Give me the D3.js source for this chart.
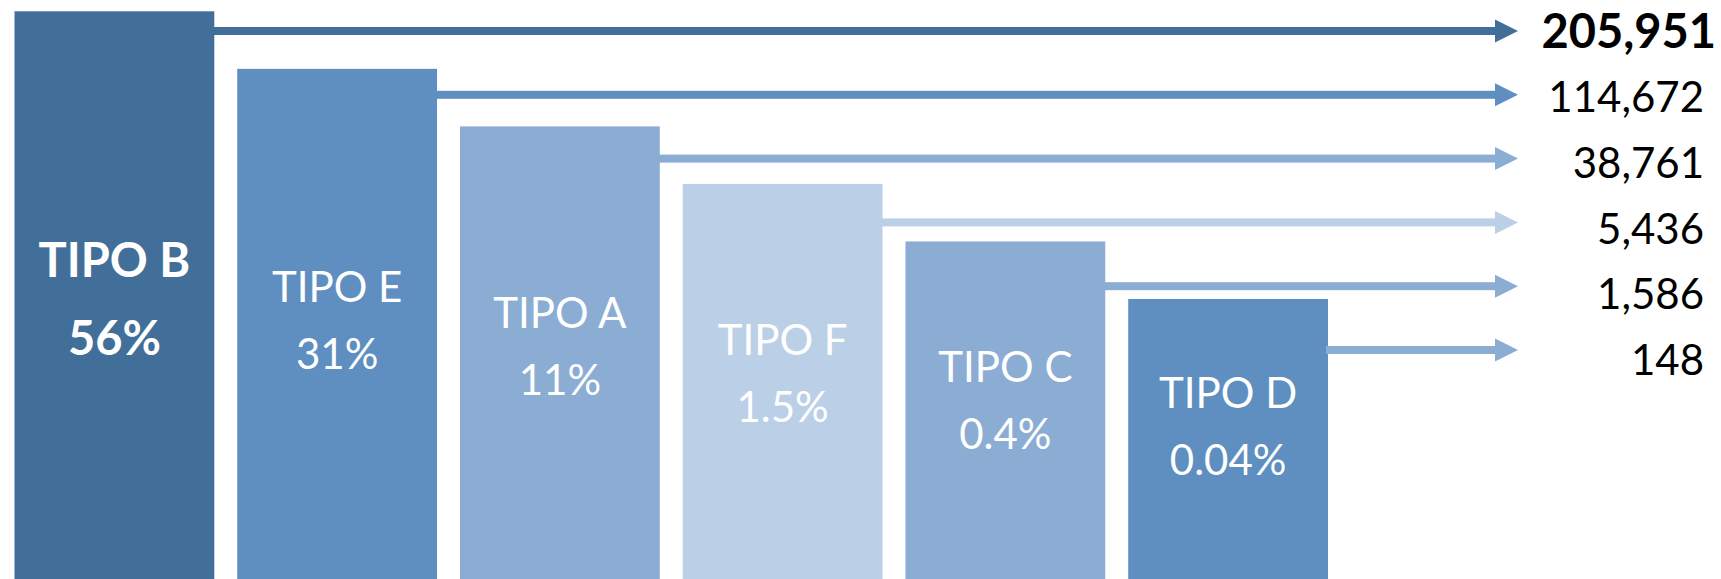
<!DOCTYPE html>
<html>
<head>
<meta charset="utf-8">
<script src="https://cdn.jsdelivr.net/npm/d3@7/dist/d3.min.js"></script>
<style>
  html, body { margin: 0; padding: 0; background: #fff; }
  svg { display: block; font-family: Lato, "Open Sans", sans-serif; }
</style>
</head>
<body>
<svg id="chart" width="1721" height="579"></svg>
<script>
// data
var categories = ["TIPO B", "TIPO E", "TIPO A", "TIPO F", "TIPO C", "TIPO D"];
var counts = [205951, 114672, 38761, 5436, 1586, 148];
var shares = ["56%", "31%", "11%", "1.5%", "0.4%", "0.04%"];

// colores de barras y flechas
var barColors = ["#426f99", "#5e8fc0", "#8badd4", "#bbcfe7", "#8badd4", "#5e8fc0"];
var arrowColors = ["#426f99", "#5e8fc0", "#8badd4", "#bbcfe7", "#8badd4", "#8badd4"];

var svg = d3.select("#chart");
var width = +svg.attr("width");
var height = +svg.attr("height");

var rows = categories.map(function (c, i) {
  return { cat: c, count: counts[i], share: shares[i], i: i };
});

// escalas
var x = d3.scaleBand()
  .domain(categories)
  .range([14.5, 1328])
  .paddingInner(0.103)
  .paddingOuter(0);

// la altura de cada barra va por orden (escalera)
var barTop = d3.scalePoint().domain(categories).range([11.3, 299]);
var labelY = d3.scalePoint().domain(categories).range([260, 393]);
var arrowY = d3.scalePoint().domain(categories).range([31, 350]);
var valueY = d3.scalePoint().domain(categories).range([31, 360]);

var fmt = d3.format(",");
var tipX = 1518;
var headLen = 23, headHalf = 11.5, lineW = 8;

// barras
svg.append("g")
  .selectAll("rect")
  .data(rows)
  .enter()
  .append("rect")
  .attr("x", function (d) { return x(d.cat); })
  .attr("y", function (d) { return barTop(d.cat); })
  .attr("width", x.bandwidth())
  .attr("height", function (d) { return height - barTop(d.cat); })
  .attr("fill", function (d) { return barColors[d.i]; });

// flechas
var arrows = svg.append("g")
  .selectAll("g")
  .data(rows)
  .enter()
  .append("g")
  .attr("fill", function (d) { return arrowColors[d.i]; });

arrows.append("rect")
  .attr("x", function (d) { return x(d.cat) + x.bandwidth() - 2; })
  .attr("y", function (d) { return arrowY(d.cat) - lineW / 2; })
  .attr("width", function (d) { return tipX - headLen - (x(d.cat) + x.bandwidth() - 2) + 1; })
  .attr("height", lineW);

arrows.append("path")
  .attr("d", function (d) {
    var y = arrowY(d.cat);
    return "M" + (tipX - headLen) + "," + (y - headHalf) +
      "L" + tipX + "," + y +
      "L" + (tipX - headLen) + "," + (y + headHalf) + "Z";
  });

// etiquetas dentro de las barras
var labels = svg.append("g")
  .attr("fill", "#fff")
  .attr("text-anchor", "middle")
  .selectAll("g")
  .data(rows)
  .enter()
  .append("g");

labels.append("text")
  .attr("x", function (d) { return x(d.cat) + x.bandwidth() / 2; })
  .attr("y", function (d) { return labelY(d.cat); })
  .attr("dy", "0.36em")
  .style("font-size", function (d) { return d.i === 0 ? "47px" : "42px"; })
  .style("font-weight", function (d) { return d.i === 0 ? "bold" : "normal"; })
  .text(function (d) { return d.cat; });

labels.append("text")
  .attr("x", function (d) { return x(d.cat) + x.bandwidth() / 2; })
  .attr("y", function (d) { return labelY(d.cat) + (d.i === 0 ? 78 : 67); })
  .attr("dy", "0.36em")
  .style("font-size", function (d) { return d.i === 0 ? "47px" : "42px"; })
  .style("font-weight", function (d) { return d.i === 0 ? "bold" : "normal"; })
  .text(function (d) { return d.share; });

// valores a la derecha
svg.append("g")
  .attr("text-anchor", "end")
  .attr("fill", "#000")
  .selectAll("text")
  .data(rows)
  .enter()
  .append("text")
  .attr("x", function (d) { return d.i === 0 ? 1716 : 1704; })
  .attr("y", function (d) { return valueY(d.cat); })
  .attr("dy", "0.36em")
  .style("font-size", function (d) { return d.i === 0 ? "47px" : "42px"; })
  .style("font-weight", function (d) { return d.i === 0 ? "bold" : "normal"; })
  .text(function (d) { return fmt(d.count); });
</script>
</body>
</html>
